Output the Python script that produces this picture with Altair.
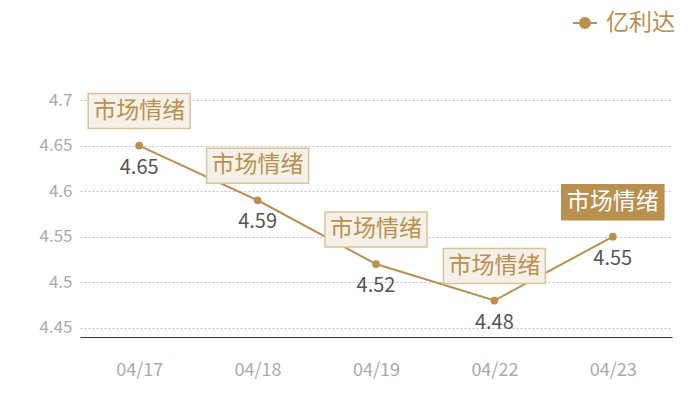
import altair as alt
import pandas as pd

dates = ["04/17", "04/18", "04/19", "04/22", "04/23"]
values = [4.65, 4.59, 4.52, 4.48, 4.55]
highlight = [False, False, False, False, True]
series_name = "亿利达"
note_text = "市场情绪"
y_ticks = [4.45, 4.5, 4.55, 4.6, 4.65, 4.7]

df = pd.DataFrame({
    "date": dates,
    "value": values,
    "hl": highlight,
    "series": [series_name] * len(dates),
    "note": [note_text] * len(dates),
    "label": [f"{v:.2f}" for v in values],
})

GOLD = "#b8904f"
FONT = "Noto Sans CJK SC"

x = alt.X("date:N", sort=dates, scale=alt.Scale(type="point", padding=0.5),
          axis=alt.Axis(title=None, labelAngle=0, labelColor="#aaaaaa", labelFontSize=18,
                        labelPadding=24, ticks=False, domain=True, domainColor="#333333",
                        grid=False, labelFont=FONT))
y = alt.Y("value:Q", scale=alt.Scale(domain=[4.44, 4.7], nice=False, zero=False),
          axis=alt.Axis(title=None, values=y_ticks, labelColor="#aaaaaa", labelFontSize=17,
                        labelPadding=8, ticks=False, domain=False, grid=True,
                        gridColor="#c4c4c4", gridDash=[2, 2], labelFont=FONT,
                        labelExpr="format(datum.value, '~g')"))

base = alt.Chart(df)

line = base.mark_line(strokeWidth=2).encode(
    x=x, y=y,
    color=alt.Color("series:N", scale=alt.Scale(range=[GOLD]),
                    legend=alt.Legend(title=None, orient="none", legendX=492, legendY=-90,
                                      labelFontSize=23, labelColor=GOLD, labelFont=FONT,
                                      labelLimit=120,
                                      symbolType="M-1,0L-0.42,0M0.42,0L1,0M-0.42,0A0.42,0.42 0 1,0 0.42,0A0.42,0.42 0 1,0 -0.42,0Z",
                                      symbolSize=576, symbolStrokeWidth=2,
                                      symbolFillColor=GOLD, symbolStrokeColor="#cfb284",
                                      labelOffset=8)),
)

points = base.mark_point(filled=True, size=60, opacity=1, color=GOLD).encode(x=x, y=y)

value_labels = base.mark_text(fontSize=20, color="#555555", dy=22, font=FONT).encode(
    x=x, y=y, text="label:N")

boxes = base.mark_rect(strokeWidth=1.5, xOffset=-51, x2Offset=51, yOffset=-52, y2Offset=-17).encode(
    x=x, x2="date:N", y=y, y2="value:Q",
    fill=alt.condition("datum.hl", alt.value(GOLD), alt.value("#f5f0e8")),
    stroke=alt.condition("datum.hl", alt.value(GOLD), alt.value("#d9c29c")),
)

box_text = base.mark_text(fontSize=23, dy=-35, font=FONT).encode(
    x=x, y=y, text="note:N",
    color=alt.condition("datum.hl", alt.value("#ffffff"), alt.value(GOLD)),
)

chart = alt.layer(line, points, value_labels, boxes, box_text).properties(
    width=592, height=237,
    autosize=alt.AutoSizeParams(type="none"),
    padding={"left": 72, "top": 92, "right": 20, "bottom": 55},
).configure_view(stroke=None)

chart.save("out.html", embed_options={"renderer": "svg", "actions": False})
